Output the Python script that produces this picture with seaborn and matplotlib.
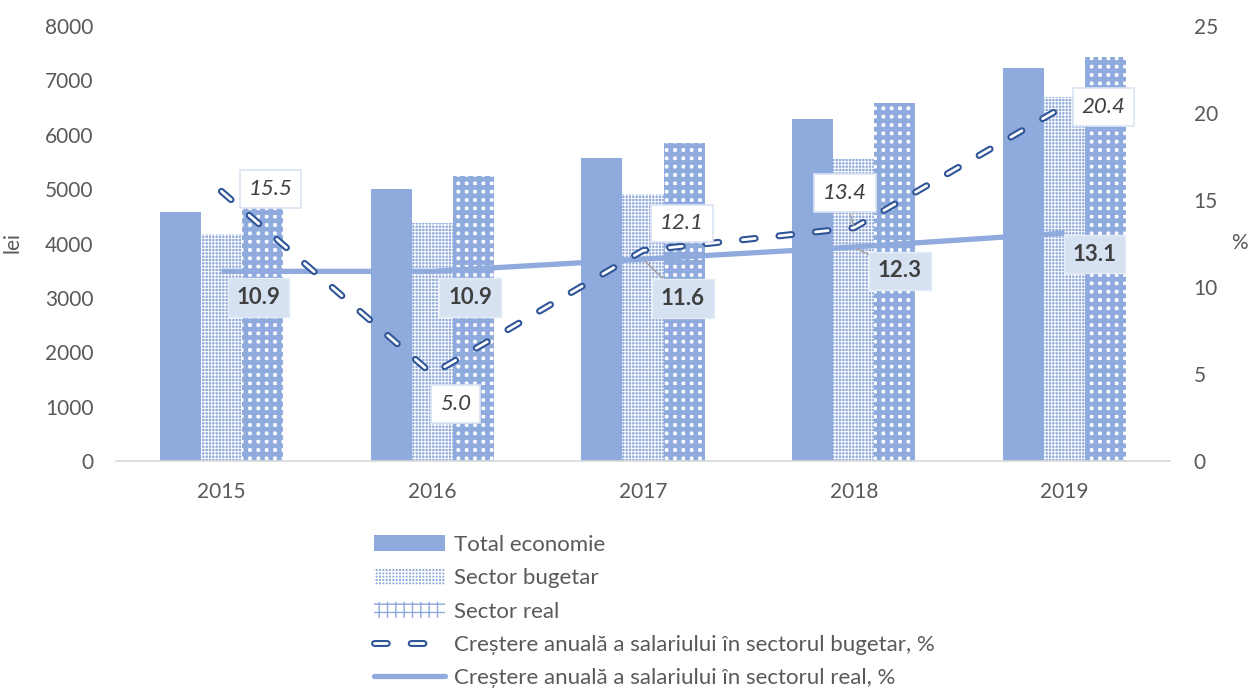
import matplotlib
matplotlib.use("Agg")
import matplotlib.pyplot as plt
import matplotlib.patheffects as pe
from matplotlib.lines import Line2D
from matplotlib.patches import Patch
import seaborn as sns
import pandas as pd
import numpy as np

# Average monthly wage by sector (lei) and annual wage growth (%)
years = ["2015", "2016", "2017", "2018", "2019"]
total_economie = [4580, 5000, 5570, 6290, 7230]
sector_bugetar = [4170, 4380, 4910, 5560, 6690]
sector_real = [4720, 5250, 5850, 6580, 7430]
crestere_bugetar = [15.5, 5.0, 12.1, 13.4, 20.4]
crestere_real = [10.9, 10.9, 11.6, 12.3, 13.1]

series_names = ["Total economie", "Sector bugetar", "Sector real"]
line_names = ["Creștere anuală a salariului în sectorul bugetar, %",
              "Creștere anuală a salariului în sectorul real, %"]

BLUE = "#8faadc"
DARK = "#2f5597"
TXT = "#595959"

sns.set_theme(style="white")
plt.rcParams["font.family"] = ["Lato", "DejaVu Sans"]

df = pd.DataFrame({
    "an": years * 3,
    "valoare": total_economie + sector_bugetar + sector_real,
    "serie": [s for s in series_names for _ in years],
})

fig = plt.figure(figsize=(12.49, 6.92), dpi=100)
ax = fig.add_axes([116 / 1249, 1 - 461 / 692, (1170 - 116) / 1249, (461 - 26) / 692])

sns.barplot(data=df, x="an", y="valoare", hue="serie", hue_order=series_names,
            order=years, width=0.585, gap=0, ax=ax, legend=False,
            palette=[BLUE, BLUE, BLUE], saturation=1)

# fill patterns for the sector bars
styles = [
    dict(fc=BLUE, hatch=None, ec=BLUE, hlw=0),
    dict(fc=BLUE, hatch="+++++", ec="white", hlw=0.7),
    dict(fc="white", hatch="++", ec=BLUE, hlw=3.4),
]
for cont, st in zip(ax.containers, styles):
    for p in cont:
        p.set_facecolor(st["fc"])
        p.set_edgecolor(st["ec"])
        p.set_linewidth(0)
        if st["hatch"]:
            p.set_hatch(st["hatch"])
            if hasattr(p, "set_hatch_linewidth"):
                p.set_hatch_linewidth(st["hlw"])

ax.set_ylim(0, 8000)
ax.set_xlim(-0.5, 4.5)
ax.set_yticks(range(0, 8001, 1000))
ax.set_xlabel("")
ax.set_ylabel("lei", color=TXT, fontsize=15)
ax.yaxis.set_label_coords((22 - 116) / 1054, 0.502)
ax.tick_params(axis="both", colors=TXT, labelsize=15, length=0)
ax.tick_params(axis="y", pad=16)
ax.tick_params(axis="x", pad=15)
for s in ["top", "right", "left"]:
    ax.spines[s].set_visible(False)
ax.spines["bottom"].set_color("#d9d9d9")
ax.spines["bottom"].set_linewidth(1.2)

ax2 = ax.twinx()
ax2.set_ylim(0, 25)
ax2.set_yticks(range(0, 26, 5))
ax2.tick_params(axis="y", colors=TXT, labelsize=15, length=0, pad=17)
for s in ax2.spines.values():
    s.set_visible(False)
ax2.set_ylabel("%", color=TXT, fontsize=15, rotation=0, va="center", ha="center")
ax2.yaxis.set_label_coords((1239 - 116) / 1054, 0.502)

xs = np.arange(len(years))
dash_fx = [pe.Stroke(linewidth=5.0, foreground=DARK), pe.Normal()]
dash_pat = (4.6, 8.6)
sns.lineplot(x=xs, y=crestere_real, ax=ax2, color=BLUE, linewidth=3.8,
             solid_capstyle="butt", legend=False)
ax2.plot(xs, crestere_bugetar, color="white", linewidth=2.0,
         dashes=dash_pat, dash_capstyle="round", path_effects=dash_fx)

# value labels
real_off = [(37, -26), (38, -26), (40, -39), (46, -24), (30, -21)]
bug_off = [(49, 2), (23, -30), (39, 27), (-9, 35), (39, -1)]
real_leader = [False, False, True, True, False]
bug_leader = [False, False, False, True, False]
lead = dict(arrowstyle="-", color="#a6a6a6", lw=1.2, shrinkA=0, shrinkB=2)
for i in range(len(years)):
    ax2.annotate(f"{crestere_real[i]:.1f}", (xs[i], crestere_real[i]),
                 xytext=real_off[i], textcoords="offset pixels",
                 ha="center", va="center", fontsize=16, fontweight="bold", color="#404040",
                 bbox=dict(boxstyle="square,pad=0.4", fc="#d6e2f2", ec="#e4ecf7", lw=1),
                 arrowprops=lead if real_leader[i] else None, zorder=5)
    ax2.annotate(f"{crestere_bugetar[i]:.1f}", (xs[i], crestere_bugetar[i]),
                 xytext=bug_off[i], textcoords="offset pixels",
                 ha="center", va="center", fontsize=16, fontstyle="italic", color="#404040",
                 bbox=dict(boxstyle="square,pad=0.4", fc="white", ec="#dae3f3", lw=1.2),
                 arrowprops=lead if bug_leader[i] else None, zorder=5)

handles = [
    Patch(facecolor=BLUE, edgecolor=BLUE, linewidth=0),
    Patch(facecolor=BLUE, edgecolor="white", hatch="+++++", linewidth=0),
    Patch(facecolor="white", edgecolor=BLUE, hatch="++", linewidth=0),
    Line2D([], [], color="white", linewidth=2.0, dashes=dash_pat,
           dash_capstyle="round", path_effects=dash_fx),
    Line2D([], [], color=BLUE, linewidth=3.8),
]
leg = fig.legend(handles, series_names + line_names, loc="upper left",
                 bbox_to_anchor=(374 / 1249, 1 - 535 / 692), frameon=False,
                 fontsize=16, labelcolor=TXT, handlelength=3.2, handleheight=0.75,
                 handletextpad=0.4, labelspacing=0.6, borderaxespad=0, borderpad=0)

fig.savefig("out.png", dpi=100)
